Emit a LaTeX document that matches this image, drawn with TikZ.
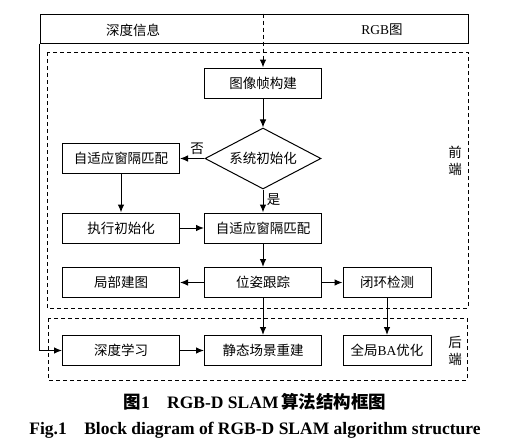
\documentclass[tikz,border=0pt]{standalone}
\usepackage{fontspec}
\setmainfont{Liberation Serif}
\newfontfamily\cjk{Noto Sans CJK SC}
\usetikzlibrary{shapes,arrows.meta,positioning}

\tikzset{
  blk/.style={rectangle, draw, line width=1pt, minimum width=117pt, minimum height=30pt, inner sep=0pt, font=\fontsize{13.5pt}{16pt}\selectfont\cjk},
  dec/.style={diamond, draw, line width=1pt, aspect=1.9, minimum width=116pt, minimum height=61pt, inner sep=0pt, font=\fontsize{13.5pt}{16pt}\selectfont\cjk},
  lbl/.style={font=\fontsize{13.5pt}{17pt}\selectfont},
  zone/.style={draw, line width=1pt, dash pattern=on 4pt off 3pt},
  flow/.style={->, line width=1pt},
  captxt/.style={font=\fontsize{17.5pt}{20pt}\selectfont\bfseries},
}

\begin{document}
\begin{tikzpicture}[x=1pt, y=-1pt, >={Latex[length=8pt,width=6.5pt]}]
    \useasboundingbox (0,0) rectangle (512,447);

    % Input
    \node [draw, line width=1pt, minimum width=428pt, minimum height=29pt, inner sep=0pt] (input) at (254,28.5) {};
    \node [lbl] (depth) at (133,30) {\cjk 深度信息};
    \node [lbl] (rgb) at (382,30) {RGB{\cjk 图}};

    % Regions
    \draw [zone] (47,52) rectangle (468,308);
    \draw [zone] (48,318) rectangle (467,380);
    \node [lbl, align=center] (front) at (455,161) {\cjk 前\\\cjk 端};
    \node [lbl, align=center] (back) at (455,351) {\cjk 后\\\cjk 端};

    % Nodes
    \node [blk] (frame) at (263,83) {图像帧构建};
    \node [dec] (init) at (263,158.5) {系统初始化};
    \node [blk] (matchl) at (121,158.5) {自适应窗隔匹配};
    \node [blk] (doinit) at (121,228) {执行初始化};
    \node [blk] (matchc) at (263,228) {自适应窗隔匹配};
    \node [blk] (localmap) at (121,282.5) {局部建图};
    \node [blk] (track) at (263,282.5) {位姿跟踪};
    \node [blk, minimum width=88pt] (loop) at (387,282.5) {闭环检测};
    \node [blk] (deep) at (121,350.5) {深度学习};
    \node [blk] (recon) at (263,350.5) {静态场景重建};
    \node [blk, minimum width=88pt] (ba) at (387,350.5) {全局{\rmfamily BA}优化};

    % Path
    \draw [flow, dash pattern=on 4pt off 3pt] (frame |- input.north) -- (frame);
    \draw [flow] (input.south west) |- (deep);
    \draw [flow] (frame) -- (init);
    \draw [flow] (init) -- node[lbl, above, pos=0.3] {\cjk 否} (matchl);
    \draw [flow] (init) -- node[lbl, right, pos=0.45] {\cjk 是} (matchc);
    \draw [flow] (matchl) -- (doinit);
    \draw [flow] (doinit) -- (matchc);
    \draw [flow] (matchc) -- (track);
    \draw [flow] (track) -- (localmap);
    \draw [flow] (track) -- (loop);
    \draw [flow] (track) -- (recon);
    \draw [flow] (loop) -- (ba);
    \draw [flow] (deep) -- (recon);

    % Caption
    \node [captxt] (capcn) at (255,402) {{\cjk 图}1\quad RGB-D SLAM\,{\cjk 算法结构框图}};
    \node [captxt] (capen) at (255,430) {Fig.1\quad Block diagram of RGB-D SLAM algorithm structure};
\end{tikzpicture}
\end{document}
